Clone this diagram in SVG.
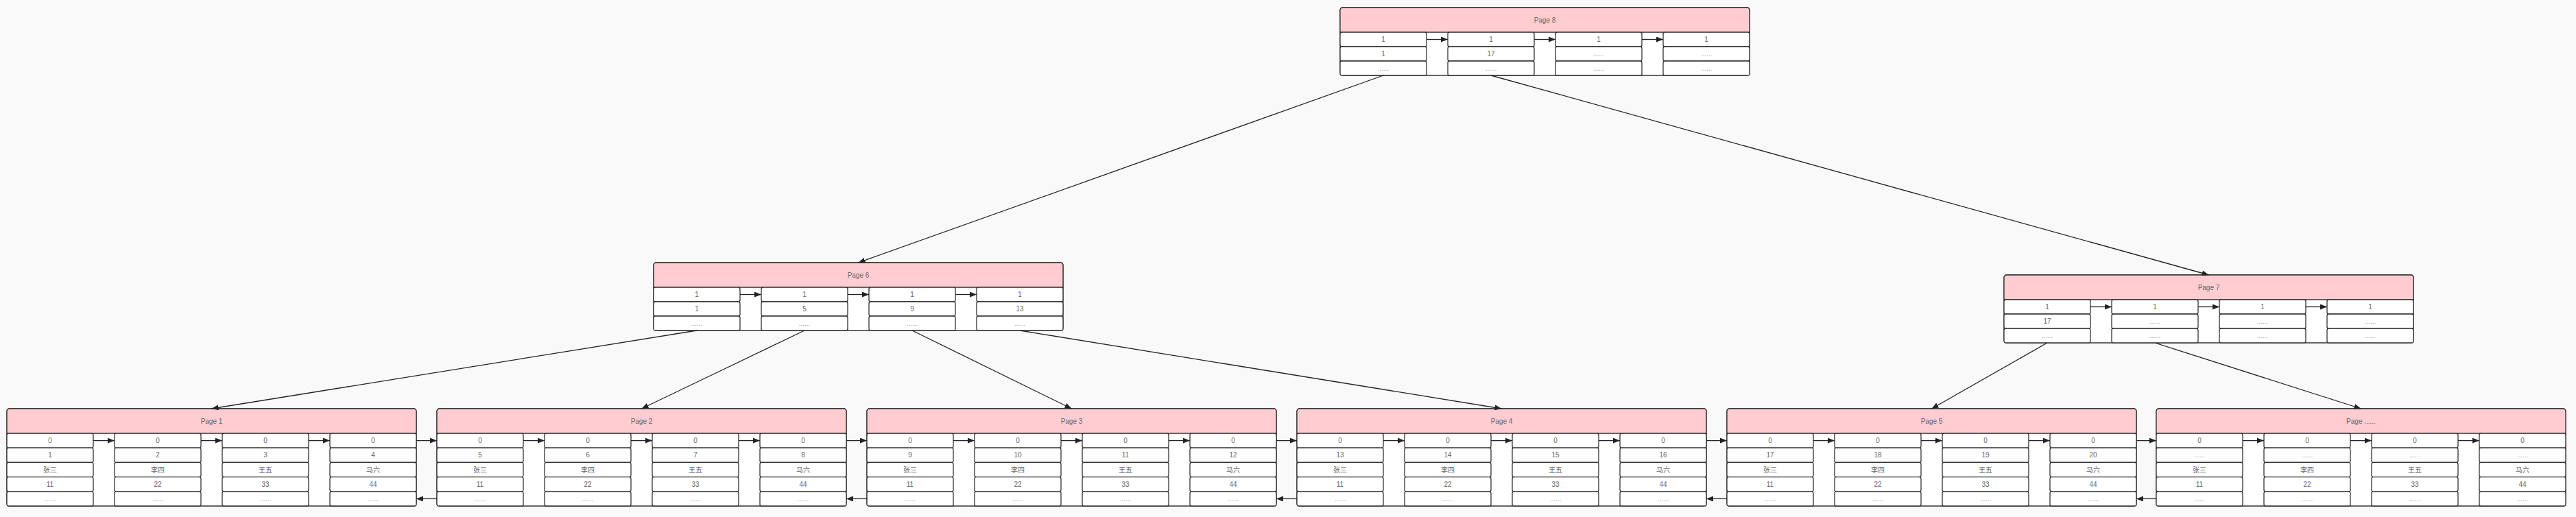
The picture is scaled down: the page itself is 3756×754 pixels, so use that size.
<svg xmlns="http://www.w3.org/2000/svg" xmlns:xlink="http://www.w3.org/1999/xlink" width="3756" height="754" viewBox="0 0 3756 754">
<style>
.bg{fill:#f9f9f9}
.node{fill:#fff;stroke:#333;stroke-width:1.3}
.hdr{fill:#ffccd2;stroke:#333;stroke-width:1.3}
.cell{fill:#fff;stroke:#333;stroke-width:1.3}
text{font-family:"Liberation Sans",Arial,"Noto Sans CJK SC",sans-serif;font-size:10px;fill:#666;text-anchor:middle}
text.d{fill:#999}
.e{stroke:#222;stroke-width:1.3;fill:none;marker-end:url(#ah)}
</style>
<defs>
<marker id="ah" viewBox="0 0 10 8" refX="10" refY="4" markerWidth="10" markerHeight="8" markerUnits="userSpaceOnUse" orient="auto"><path d="M0,0 L10,4 L0,8 Z" fill="#222"/></marker>
<g id="leaf">
<rect class="node" x="0" y="0" width="597" height="142" rx="4"/>
<path class="hdr" d="M0,36 V4 Q0,0 4,0 H593 Q597,0 597,4 V36 Z"/>
<rect class="cell" x="0" y="36" width="126" height="21.2" rx="2.5"/><rect class="cell" x="0" y="57.2" width="126" height="21.2" rx="2.5"/><rect class="cell" x="0" y="78.4" width="126" height="21.2" rx="2.5"/><rect class="cell" x="0" y="99.6" width="126" height="21.2" rx="2.5"/><rect class="cell" x="0" y="120.8" width="126" height="21.2" rx="2.5"/>
<rect class="cell" x="157" y="36" width="126" height="21.2" rx="2.5"/><rect class="cell" x="157" y="57.2" width="126" height="21.2" rx="2.5"/><rect class="cell" x="157" y="78.4" width="126" height="21.2" rx="2.5"/><rect class="cell" x="157" y="99.6" width="126" height="21.2" rx="2.5"/><rect class="cell" x="157" y="120.8" width="126" height="21.2" rx="2.5"/>
<rect class="cell" x="314" y="36" width="126" height="21.2" rx="2.5"/><rect class="cell" x="314" y="57.2" width="126" height="21.2" rx="2.5"/><rect class="cell" x="314" y="78.4" width="126" height="21.2" rx="2.5"/><rect class="cell" x="314" y="99.6" width="126" height="21.2" rx="2.5"/><rect class="cell" x="314" y="120.8" width="126" height="21.2" rx="2.5"/>
<rect class="cell" x="471" y="36" width="126" height="21.2" rx="2.5"/><rect class="cell" x="471" y="57.2" width="126" height="21.2" rx="2.5"/><rect class="cell" x="471" y="78.4" width="126" height="21.2" rx="2.5"/><rect class="cell" x="471" y="99.6" width="126" height="21.2" rx="2.5"/><rect class="cell" x="471" y="120.8" width="126" height="21.2" rx="2.5"/>
</g>
<g id="inner">
<rect class="node" x="0" y="0" width="597" height="99" rx="4"/>
<path class="hdr" d="M0,36 V4 Q0,0 4,0 H593 Q597,0 597,4 V36 Z"/>
<rect class="cell" x="0" y="36" width="126" height="21" rx="2.5"/><rect class="cell" x="0" y="57" width="126" height="21" rx="2.5"/><rect class="cell" x="0" y="78" width="126" height="21" rx="2.5"/>
<rect class="cell" x="157" y="36" width="126" height="21" rx="2.5"/><rect class="cell" x="157" y="57" width="126" height="21" rx="2.5"/><rect class="cell" x="157" y="78" width="126" height="21" rx="2.5"/>
<rect class="cell" x="314" y="36" width="126" height="21" rx="2.5"/><rect class="cell" x="314" y="57" width="126" height="21" rx="2.5"/><rect class="cell" x="314" y="78" width="126" height="21" rx="2.5"/>
<rect class="cell" x="471" y="36" width="126" height="21" rx="2.5"/><rect class="cell" x="471" y="57" width="126" height="21" rx="2.5"/><rect class="cell" x="471" y="78" width="126" height="21" rx="2.5"/>
</g>
</defs>
<rect class="bg" x="0" y="0" width="3756" height="754"/>

<g id="page8" transform="translate(1954,11)">
<use xlink:href="#inner"/>
<text x="298.5" y="21.5">Page 8</text>
<text x="63" y="50">1</text><text x="220" y="50">1</text><text x="377" y="50">1</text><text x="534" y="50">1</text>
<text x="63" y="71">1</text><text x="220" y="71">17</text><text class="d" x="377" y="71">......</text><text class="d" x="534" y="71">......</text>
<text class="d" x="63" y="92">......</text><text class="d" x="220" y="92">......</text><text class="d" x="377" y="92">......</text><text class="d" x="534" y="92">......</text>
</g>

<g id="page6" transform="translate(953,383)">
<use xlink:href="#inner"/>
<text x="298.5" y="21.5">Page 6</text>
<text x="63" y="50">1</text><text x="220" y="50">1</text><text x="377" y="50">1</text><text x="534" y="50">1</text>
<text x="63" y="71">1</text><text x="220" y="71">5</text><text x="377" y="71">9</text><text x="534" y="71">13</text>
<text class="d" x="63" y="92">......</text><text class="d" x="220" y="92">......</text><text class="d" x="377" y="92">......</text><text class="d" x="534" y="92">......</text>
</g>

<g id="page7" transform="translate(2922,401)">
<use xlink:href="#inner"/>
<text x="298.5" y="21.5">Page 7</text>
<text x="63" y="50">1</text><text x="220" y="50">1</text><text x="377" y="50">1</text><text x="534" y="50">1</text>
<text x="63" y="71">17</text><text class="d" x="220" y="71">......</text><text class="d" x="377" y="71">......</text><text class="d" x="534" y="71">......</text>
<text class="d" x="63" y="92">......</text><text class="d" x="220" y="92">......</text><text class="d" x="377" y="92">......</text><text class="d" x="534" y="92">......</text>
</g>

<g id="page1" transform="translate(10,596)">
<use xlink:href="#leaf"/>
<text x="298.5" y="21.5">Page 1</text>
<text x="63" y="50.2">0</text><text x="220" y="50.2">0</text><text x="377" y="50.2">0</text><text x="534" y="50.2">0</text>
<text x="63" y="71.4">1</text><text x="220" y="71.4">2</text><text x="377" y="71.4">3</text><text x="534" y="71.4">4</text>
<text x="63" y="92.6">张三</text><text x="220" y="92.6">李四</text><text x="377" y="92.6">王五</text><text x="534" y="92.6">马六</text>
<text x="63" y="113.8">11</text><text x="220" y="113.8">22</text><text x="377" y="113.8">33</text><text x="534" y="113.8">44</text>
<text class="d" x="63" y="135">......</text><text class="d" x="220" y="135">......</text><text class="d" x="377" y="135">......</text><text class="d" x="534" y="135">......</text>
</g>

<g id="page2" transform="translate(637,596)">
<use xlink:href="#leaf"/>
<text x="298.5" y="21.5">Page 2</text>
<text x="63" y="50.2">0</text><text x="220" y="50.2">0</text><text x="377" y="50.2">0</text><text x="534" y="50.2">0</text>
<text x="63" y="71.4">5</text><text x="220" y="71.4">6</text><text x="377" y="71.4">7</text><text x="534" y="71.4">8</text>
<text x="63" y="92.6">张三</text><text x="220" y="92.6">李四</text><text x="377" y="92.6">王五</text><text x="534" y="92.6">马六</text>
<text x="63" y="113.8">11</text><text x="220" y="113.8">22</text><text x="377" y="113.8">33</text><text x="534" y="113.8">44</text>
<text class="d" x="63" y="135">......</text><text class="d" x="220" y="135">......</text><text class="d" x="377" y="135">......</text><text class="d" x="534" y="135">......</text>
</g>

<g id="page3" transform="translate(1264,596)">
<use xlink:href="#leaf"/>
<text x="298.5" y="21.5">Page 3</text>
<text x="63" y="50.2">0</text><text x="220" y="50.2">0</text><text x="377" y="50.2">0</text><text x="534" y="50.2">0</text>
<text x="63" y="71.4">9</text><text x="220" y="71.4">10</text><text x="377" y="71.4">11</text><text x="534" y="71.4">12</text>
<text x="63" y="92.6">张三</text><text x="220" y="92.6">李四</text><text x="377" y="92.6">王五</text><text x="534" y="92.6">马六</text>
<text x="63" y="113.8">11</text><text x="220" y="113.8">22</text><text x="377" y="113.8">33</text><text x="534" y="113.8">44</text>
<text class="d" x="63" y="135">......</text><text class="d" x="220" y="135">......</text><text class="d" x="377" y="135">......</text><text class="d" x="534" y="135">......</text>
</g>

<g id="page4" transform="translate(1891,596)">
<use xlink:href="#leaf"/>
<text x="298.5" y="21.5">Page 4</text>
<text x="63" y="50.2">0</text><text x="220" y="50.2">0</text><text x="377" y="50.2">0</text><text x="534" y="50.2">0</text>
<text x="63" y="71.4">13</text><text x="220" y="71.4">14</text><text x="377" y="71.4">15</text><text x="534" y="71.4">16</text>
<text x="63" y="92.6">张三</text><text x="220" y="92.6">李四</text><text x="377" y="92.6">王五</text><text x="534" y="92.6">马六</text>
<text x="63" y="113.8">11</text><text x="220" y="113.8">22</text><text x="377" y="113.8">33</text><text x="534" y="113.8">44</text>
<text class="d" x="63" y="135">......</text><text class="d" x="220" y="135">......</text><text class="d" x="377" y="135">......</text><text class="d" x="534" y="135">......</text>
</g>

<g id="page5" transform="translate(2518,596)">
<use xlink:href="#leaf"/>
<text x="298.5" y="21.5">Page 5</text>
<text x="63" y="50.2">0</text><text x="220" y="50.2">0</text><text x="377" y="50.2">0</text><text x="534" y="50.2">0</text>
<text x="63" y="71.4">17</text><text x="220" y="71.4">18</text><text x="377" y="71.4">19</text><text x="534" y="71.4">20</text>
<text x="63" y="92.6">张三</text><text x="220" y="92.6">李四</text><text x="377" y="92.6">王五</text><text x="534" y="92.6">马六</text>
<text x="63" y="113.8">11</text><text x="220" y="113.8">22</text><text x="377" y="113.8">33</text><text x="534" y="113.8">44</text>
<text class="d" x="63" y="135">......</text><text class="d" x="220" y="135">......</text><text class="d" x="377" y="135">......</text><text class="d" x="534" y="135">......</text>
</g>

<g id="pageN" transform="translate(3144,596)">
<use xlink:href="#leaf"/>
<text x="298.5" y="21.5">Page ......</text>
<text x="63" y="50.2">0</text><text x="220" y="50.2">0</text><text x="377" y="50.2">0</text><text x="534" y="50.2">0</text>
<text class="d" x="63" y="71.4">......</text><text class="d" x="220" y="71.4">......</text><text class="d" x="377" y="71.4">......</text><text class="d" x="534" y="71.4">......</text>
<text x="63" y="92.6">张三</text><text x="220" y="92.6">李四</text><text x="377" y="92.6">王五</text><text x="534" y="92.6">马六</text>
<text x="63" y="113.8">11</text><text x="220" y="113.8">22</text><text x="377" y="113.8">33</text><text x="534" y="113.8">44</text>
<text class="d" x="63" y="135">......</text><text class="d" x="220" y="135">......</text><text class="d" x="377" y="135">......</text><text class="d" x="534" y="135">......</text>
</g>

<g id="connectors">
<!-- tree edges -->
<line class="e" x1="2017" y1="110" x2="1251.5" y2="383"/>
<line class="e" x1="2174" y1="110" x2="3220.5" y2="401"/>
<line class="e" x1="1016" y1="482" x2="308.5" y2="596"/>
<line class="e" x1="1173" y1="482" x2="935.5" y2="596"/>
<line class="e" x1="1330" y1="482" x2="1562.5" y2="596"/>
<line class="e" x1="1487" y1="482" x2="2189.5" y2="596"/>
<line class="e" x1="2985" y1="500" x2="2816.5" y2="596"/>
<line class="e" x1="3142" y1="500" x2="3442.5" y2="596"/>
<!-- in-node arrows: Page 8 -->
<line class="e" x1="2080" y1="57.5" x2="2111" y2="57.5"/>
<line class="e" x1="2237" y1="57.5" x2="2268" y2="57.5"/>
<line class="e" x1="2394" y1="57.5" x2="2425" y2="57.5"/>
<!-- Page 6 -->
<line class="e" x1="1079" y1="429.5" x2="1110" y2="429.5"/>
<line class="e" x1="1236" y1="429.5" x2="1267" y2="429.5"/>
<line class="e" x1="1393" y1="429.5" x2="1424" y2="429.5"/>
<!-- Page 7 -->
<line class="e" x1="3048" y1="447.5" x2="3079" y2="447.5"/>
<line class="e" x1="3205" y1="447.5" x2="3236" y2="447.5"/>
<line class="e" x1="3362" y1="447.5" x2="3393" y2="447.5"/>
<!-- Page 1 -->
<line class="e" x1="136" y1="642.6" x2="167" y2="642.6"/>
<line class="e" x1="293" y1="642.6" x2="324" y2="642.6"/>
<line class="e" x1="450" y1="642.6" x2="481" y2="642.6"/>
<!-- Page 2 -->
<line class="e" x1="763" y1="642.6" x2="794" y2="642.6"/>
<line class="e" x1="920" y1="642.6" x2="951" y2="642.6"/>
<line class="e" x1="1077" y1="642.6" x2="1108" y2="642.6"/>
<!-- Page 3 -->
<line class="e" x1="1390" y1="642.6" x2="1421" y2="642.6"/>
<line class="e" x1="1547" y1="642.6" x2="1578" y2="642.6"/>
<line class="e" x1="1704" y1="642.6" x2="1735" y2="642.6"/>
<!-- Page 4 -->
<line class="e" x1="2017" y1="642.6" x2="2048" y2="642.6"/>
<line class="e" x1="2174" y1="642.6" x2="2205" y2="642.6"/>
<line class="e" x1="2331" y1="642.6" x2="2362" y2="642.6"/>
<!-- Page 5 -->
<line class="e" x1="2644" y1="642.6" x2="2675" y2="642.6"/>
<line class="e" x1="2801" y1="642.6" x2="2832" y2="642.6"/>
<line class="e" x1="2958" y1="642.6" x2="2989" y2="642.6"/>
<!-- Page ...... -->
<line class="e" x1="3270" y1="642.6" x2="3301" y2="642.6"/>
<line class="e" x1="3427" y1="642.6" x2="3458" y2="642.6"/>
<line class="e" x1="3584" y1="642.6" x2="3615" y2="642.6"/>
<!-- leaf forward links -->
<line class="e" x1="607" y1="642.6" x2="637" y2="642.6"/>
<line class="e" x1="1234" y1="642.6" x2="1264" y2="642.6"/>
<line class="e" x1="1861" y1="642.6" x2="1891" y2="642.6"/>
<line class="e" x1="2488" y1="642.6" x2="2518" y2="642.6"/>
<line class="e" x1="3115" y1="642.6" x2="3144" y2="642.6"/>
<!-- leaf backward links -->
<line class="e" x1="637" y1="727.4" x2="607" y2="727.4"/>
<line class="e" x1="1264" y1="727.4" x2="1234" y2="727.4"/>
<line class="e" x1="1891" y1="727.4" x2="1861" y2="727.4"/>
<line class="e" x1="2518" y1="727.4" x2="2488" y2="727.4"/>
<line class="e" x1="3144" y1="727.4" x2="3115" y2="727.4"/>
</g>
</svg>
